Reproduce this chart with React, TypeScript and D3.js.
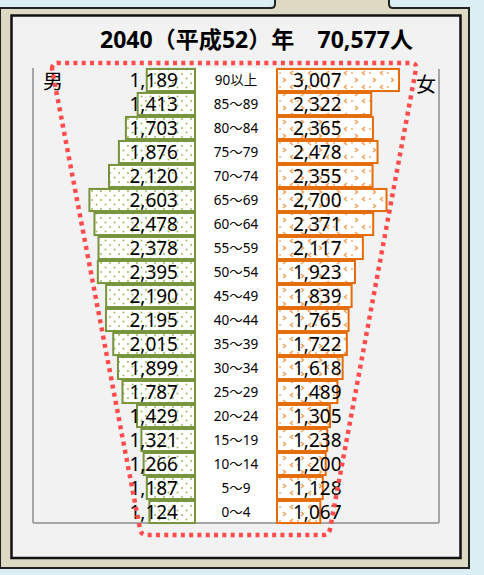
import React from "react";
import * as d3 from "d3";

const ageGroups = ["90以上", "85~89", "80~84", "75~79", "70~74", "65~69", "60~64", "55~59", "50~54", "45~49", "40~44", "35~39", "30~34", "25~29", "20~24", "15~19", "10~14", "5~9", "0~4"];
const ageLabels = ["90以上", "85～89", "80～84", "75～79", "70～74", "65～69", "60～64", "55～59", "50～54", "45～49", "40～44", "35～39", "30～34", "25～29", "20～24", "15～19", "10～14", "5～9", "0～4"];
const maleValues = [1189, 1413, 1703, 1876, 2120, 2603, 2478, 2378, 2395, 2190, 2195, 2015, 1899, 1787, 1429, 1321, 1266, 1187, 1124];
const femaleValues = [3007, 2322, 2365, 2478, 2355, 2700, 2371, 2117, 1923, 1839, 1765, 1722, 1618, 1489, 1305, 1238, 1200, 1128, 1067];
const titleText = "2040（平成52）年　70,577人";
const maleLabel = "男";
const femaleLabel = "女";

const W = 484;
const H = 575;
const top = 68;
const bottom = 524;
const maleRight = 195;
const femaleLeft = 277;

export default function App() {
  const y = d3.scaleBand<number>().domain(d3.range(ageGroups.length)).range([top, bottom]).paddingInner(0.08).paddingOuter(0.04);
  const x = d3.scaleLinear().domain([0, 3000]).range([0, 121.7]);
  const fmt = d3.format(",");
  const font = "'Noto Sans', 'Noto Sans CJK JP', sans-serif";

  const trap = d3.path();
  trap.moveTo(52, 69);
  trap.quadraticCurveTo(52, 63, 58, 63);
  trap.lineTo(411, 63);
  trap.quadraticCurveTo(417, 63, 416, 69);
  trap.lineTo(330, 529);
  trap.quadraticCurveTo(329, 535, 323, 535);
  trap.lineTo(147, 535);
  trap.quadraticCurveTo(141, 535, 140, 529);
  trap.closePath();

  const frame = d3.path();
  frame.moveTo(0, 8);
  frame.lineTo(271, 8);
  frame.quadraticCurveTo(275, 8, 275, 4);
  frame.lineTo(275, -2);
  frame.lineTo(389, -2);
  frame.lineTo(389, 4);
  frame.quadraticCurveTo(389, 8, 393, 8);
  frame.lineTo(469, 8);
  frame.lineTo(469, 568);
  frame.lineTo(0, 568);
  frame.closePath();

  return (
    <svg width={W} height={H} style={{ position: "absolute", left: 0, top: 0, display: "block" }}>
      <defs>
        <pattern id="dots" width="9" height="9" patternUnits="userSpaceOnUse">
          <rect width="9" height="9" fill="#ffffff" />
          <circle cx="2" cy="2" r="1" fill="#9bbb59" />
          <circle cx="6.5" cy="6.5" r="1" fill="#9bbb59" />
        </pattern>
        <pattern id="chev" width="18" height="14" patternUnits="userSpaceOnUse">
          <rect width="18" height="14" fill="#ffffff" />
          <path d="M5,1 L2.5,3 L5,5" stroke="#f4a460" strokeWidth="1.6" fill="none" />
          <path d="M13,8 L15.5,10 L13,12" stroke="#f4a460" strokeWidth="1.6" fill="none" />
          <circle cx="10" cy="3" r="0.9" fill="#f4a460" />
        </pattern>
      </defs>
      <rect x={0} y={0} width={W} height={H} fill="#daeef3" />
      <path d={frame.toString()} fill="#ddd9c3" stroke="#222" strokeWidth={2} />
      <rect x={11.5} y={15.5} width={449} height={542.5} fill="#f2f2f2" stroke="#111" strokeWidth={2.5} />

      <text x={256.5} y={48} textAnchor="middle" fontFamily={font} fontWeight="bold" fontSize={22.5} textLength={313} lengthAdjust="spacingAndGlyphs" fill="#000">{titleText}</text>

      <rect x={maleRight} y={top} width={femaleLeft - maleRight} height={bottom - top - 1} fill="#ffffff" />

      <line x1={33} y1={68} x2={33} y2={523} stroke="#a6a6a6" strokeWidth={2} />
      <line x1={439} y1={69} x2={439} y2={523} stroke="#a6a6a6" strokeWidth={2} />
      <line x1={33} y1={523} x2={439} y2={523} stroke="#a6a6a6" strokeWidth={2} />

      {maleValues.map((v, i) => (
        <rect key={"m" + i} x={maleRight - x(v)} y={y(i)!} width={x(v)} height={y.bandwidth()} fill="url(#dots)" stroke="#77933c" strokeWidth={2} />
      ))}
      {femaleValues.map((v, i) => (
        <rect key={"f" + i} x={femaleLeft} y={y(i)!} width={x(v)} height={y.bandwidth()} fill="url(#chev)" stroke="#e46c0a" strokeWidth={2} />
      ))}
      {maleValues.map((v, i) => (
        <text key={"mt" + i} x={178} y={y(i)! + y.bandwidth() / 2 + 7} textAnchor="end" fontFamily={font} fontSize={19} fill="#000">{fmt(v)}</text>
      ))}
      {femaleValues.map((v, i) => (
        <text key={"ft" + i} x={293} y={y(i)! + y.bandwidth() / 2 + 7} textAnchor="start" fontFamily={font} fontSize={19} fill="#000">{fmt(v)}</text>
      ))}
      {ageLabels.map((a, i) => (
        <text key={"a" + i} x={236} y={y(i)! + y.bandwidth() / 2 + 5} textAnchor="middle" fontFamily={font} fontSize={13.5} fill="#000">{a}</text>
      ))}

      <text x={53} y={89} textAnchor="middle" fontFamily={font} fontSize={20} fill="#000">{maleLabel}</text>
      <text x={426} y={92} textAnchor="middle" fontFamily={font} fontSize={20} fill="#000">{femaleLabel}</text>

      <path d={trap.toString()} fill="none" stroke="#ff4b4b" strokeWidth={4.5} strokeDasharray="4 4.3" />
    </svg>
  );
}
